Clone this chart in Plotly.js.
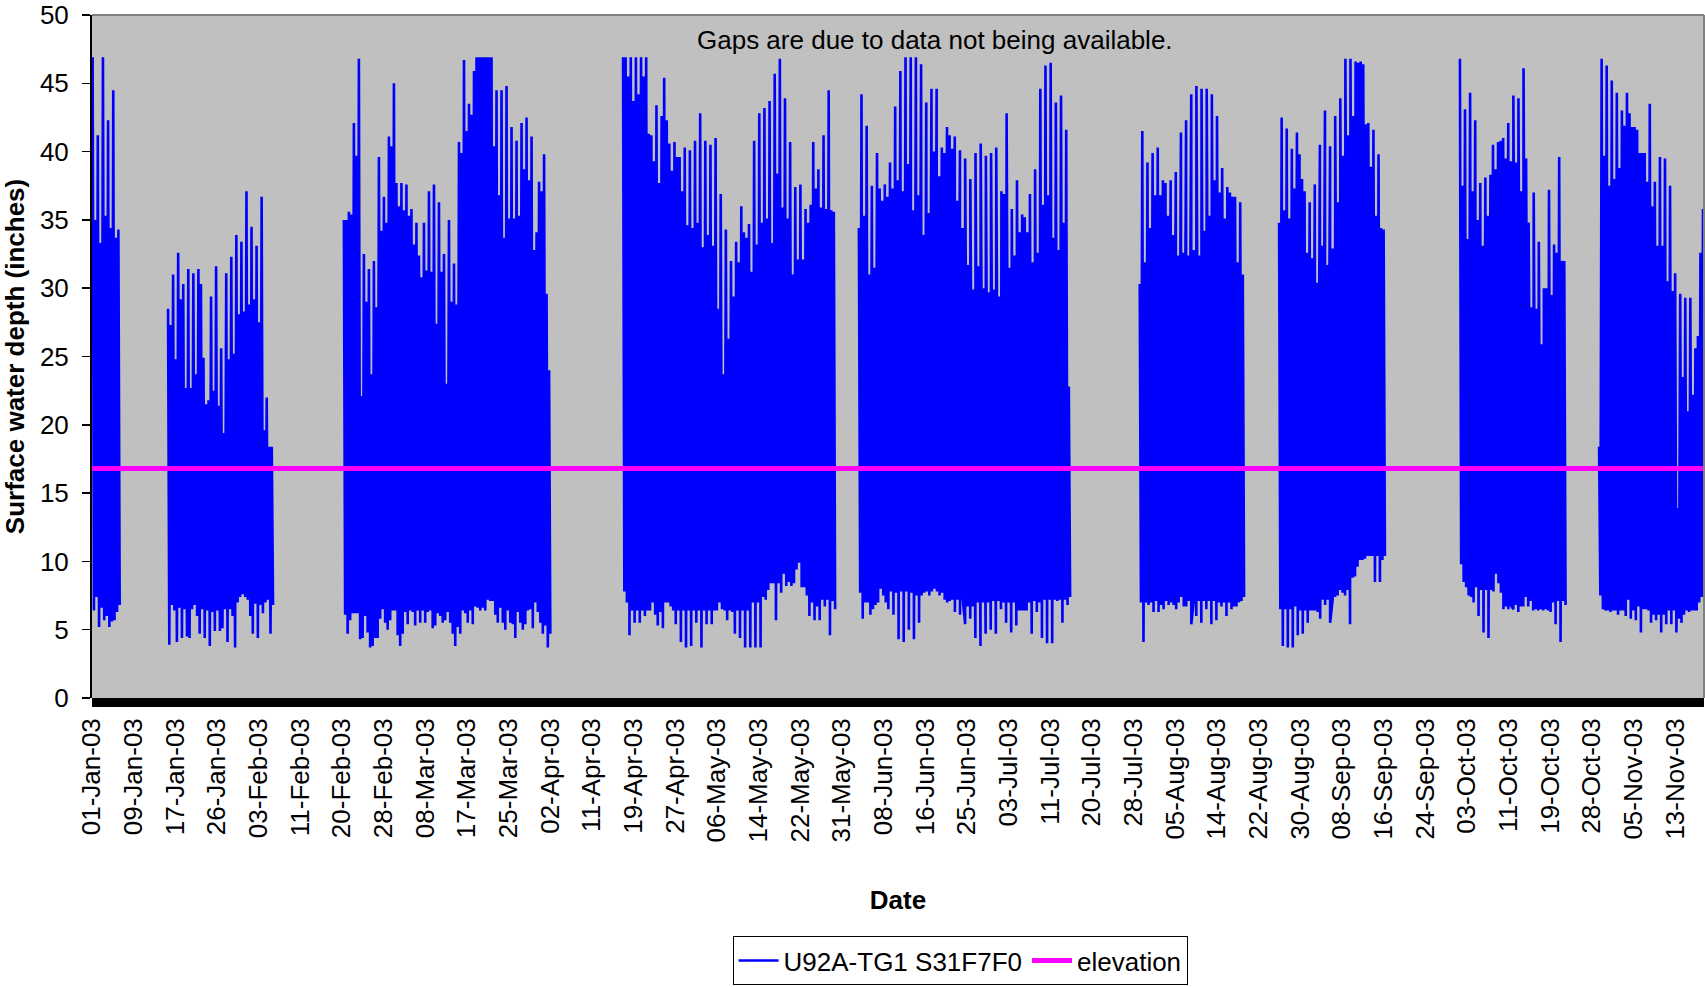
<!DOCTYPE html>
<html>
<head>
<meta charset="utf-8">
<script src="https://cdn.plot.ly/plotly-3.0.1.min.js"></script>
<style>
  html, body { margin: 0; padding: 0; background: #ffffff; }
  #chart { width: 1705px; height: 987px; }
</style>
</head>
<body>
<div id="chart"></div>
<script>
// ---- Data (semi-diurnal high / low readings per data block) ----
const segStart = ['2003-01-01 00:00', '2003-01-16 02:00', '2003-02-20 06:00', '2003-04-17 02:00',
                  '2003-06-03 06:00', '2003-07-29 10:00', '2003-08-26 07:00', '2003-10-01 11:00',
                  '2003-10-29 07:00'];
const segEnd   = ['2003-01-06 16:00', '2003-02-06 08:00', '2003-04-02 19:00', '2003-05-29 18:00',
                  '2003-07-15 18:00', '2003-08-19 13:00', '2003-09-16 17:00', '2003-10-22 20:00',
                  '2003-11-19 14:00'];

const highs1 = [46.9, 35.0, 41.2, 33.3, 46.9, 35.3, 42.3, 34.4, 44.5, 33.7, 34.3];
const lows1  = [6.4, 7.4, 5.2, 6.6, 5.7, 6.0, 5.2, 5.6, 5.7, 6.3, 6.8];

const highs2 = [28.5, 27.3, 31.0, 24.8, 32.6, 29.2, 30.3, 22.7, 31.4, 22.7, 31.1, 23.7, 31.4, 30.3,
                24.9, 21.5, 21.8, 29.4, 22.5, 31.6, 21.4, 25.6, 19.4, 31.1, 24.8, 32.3, 25.2, 33.9,
                28.1, 33.4, 28.3, 37.1, 28.8, 34.5, 29.2, 33.1, 27.5, 36.7, 19.6, 22.0, 18.4, 18.4];
const lows2  = [3.9, 6.8, 6.4, 4.1, 6.6, 4.4, 6.5, 4.5, 4.4, 6.5, 6.8, 6.0, 4.7, 6.5, 4.4, 6.4, 3.8,
                6.3, 4.9, 6.4, 4.9, 5.1, 6.5, 4.1, 6.5, 6.0, 3.7, 7.0, 7.4, 7.6, 7.4, 7.2, 6.0, 4.7,
                6.9, 4.4, 6.8, 6.2, 7.0, 7.2, 4.7, 6.8];

const highs3 = [35.0, 35.0, 35.6, 35.4, 42.1, 39.7, 46.8, 22.1, 32.5, 29.0,
                31.4, 23.7, 32.0, 28.6, 39.6, 34.2, 36.7, 34.8, 41.1, 40.4,
                45.0, 37.7, 36.0, 37.7, 35.7, 37.6, 35.3, 35.8, 33.2, 34.8,
                32.4, 30.8, 34.8, 31.3, 37.1, 31.2, 37.6, 27.4, 36.3, 31.2,
                32.5, 23.0, 35.0, 29.0, 31.8, 28.8, 40.7, 39.9, 46.7, 41.5,
                43.5, 42.7, 45.9, 46.9, 46.9, 46.9, 46.9, 46.9, 46.9, 46.9,
                40.4, 44.5, 36.8, 44.5, 33.7, 44.8, 35.1, 41.8, 35.1, 40.8,
                35.3, 42.1, 38.7, 42.5, 37.9, 41.1, 32.8, 34.1, 37.8, 37.1,
                39.8, 29.6, 24.0];
const lows3  = [6.1, 4.7, 5.7, 6.2, 6.2, 6.2, 4.3, 4.4, 6.0, 4.8, 3.7, 3.8, 4.4, 4.4, 5.8, 6.5, 5.5,
                5.0, 5.7, 6.4, 6.4, 4.6, 3.8, 4.7, 6.3, 5.4, 6.4, 6.3, 5.3, 6.4, 5.5, 6.4, 5.5, 6.3,
                6.4, 5.1, 5.3, 6.2, 6.0, 5.5, 5.7, 6.3, 5.5, 4.7, 3.8, 5.2, 4.7, 6.4, 6.2, 5.5, 6.4,
                5.4, 6.7, 6.6, 6.4, 6.6, 6.4, 7.2, 7.1, 7.1, 6.1, 5.5, 6.6, 5.5, 5.0, 6.4, 5.5, 5.4,
                4.4, 6.3, 5.5, 5.0, 5.4, 6.4, 6.5, 5.1, 7.0, 6.3, 5.5, 4.7, 5.3, 3.7, 4.7];

const highs4 = [46.9, 46.9, 45.5, 46.9, 43.7, 46.9, 44.2, 46.9, 45.5, 46.9,
                41.3, 41.2, 39.3, 43.4, 37.7, 42.6, 45.4, 42.3, 40.6, 38.6,
                40.7, 39.6, 39.6, 37.1, 40.3, 34.6, 40.1, 34.4, 40.8, 34.8,
                42.8, 33.0, 40.8, 33.9, 40.5, 33.1, 41.0, 28.5, 36.9, 23.7,
                34.3, 26.3, 32.0, 29.4, 33.4, 31.9, 36.0, 34.1, 33.7, 34.7,
                31.2, 40.8, 33.2, 42.8, 34.8, 43.2, 35.1, 43.7, 33.3, 45.7,
                38.4, 46.8, 35.9, 43.9, 35.1, 40.7, 31.0, 37.4, 32.1, 37.6,
                32.1, 35.8, 34.8, 36.1, 40.7, 37.3, 38.7, 35.9, 41.2, 35.8,
                44.5, 35.7, 35.6];
const lows4  = [7.8, 7.0, 4.6, 6.4, 5.5, 6.4, 5.5, 6.4, 6.0, 6.4, 6.4, 7.0, 6.1, 5.3, 6.3, 5.1, 7.0,
                7.0, 6.7, 6.4, 5.4, 6.4, 4.1, 6.4, 3.7, 6.4, 3.8, 6.4, 5.5, 6.4, 3.7, 6.4, 5.4, 6.4,
                5.4, 6.4, 6.4, 7.0, 6.5, 6.4, 5.7, 6.4, 6.3, 4.7, 6.4, 4.4, 6.4, 3.7, 6.4, 3.7, 7.0,
                3.7, 7.0, 3.7, 7.4, 7.2, 7.9, 8.4, 8.4, 5.7, 8.4, 7.7, 9.1, 8.2, 8.5, 8.2, 8.4, 9.4,
                9.9, 8.1, 8.1, 7.5, 6.0, 7.0, 5.7, 6.7, 5.7, 7.2, 6.7, 7.2, 4.6, 7.1, 6.5];

const highs5 = [34.4, 44.2, 35.3, 41.9, 31.0, 37.5, 31.5, 39.9, 37.3, 36.4, 37.6, 36.7, 39.2, 37.3,
                43.3, 37.9, 45.9, 37.1, 46.9, 39.1, 46.9, 35.7, 46.9, 36.8, 46.4, 33.9, 43.6, 35.5,
                44.6, 40.0, 44.6, 38.2, 40.3, 39.9, 41.8, 41.2, 40.2, 41.1, 36.4, 40.1, 34.4, 39.5,
                31.7, 38.0, 29.9, 39.9, 31.6, 40.6, 30.0, 39.7, 29.7, 39.9, 29.9, 40.3, 29.4, 37.1,
                36.9, 42.8, 31.5, 35.8, 32.4, 37.9, 34.1, 35.4, 35.2, 34.1, 36.9, 31.9, 38.7, 32.6,
                44.6, 36.1, 46.3, 36.8, 46.5, 33.7, 43.6, 32.8, 44.1, 34.8, 41.6, 22.8];
const lows5  = [7.7, 5.8, 7.0, 7.0, 6.1, 6.5, 6.8, 7.0, 8.0, 7.5, 7.0, 6.5, 7.8, 6.1, 7.7, 4.3, 7.8,
                4.1, 7.8, 5.0, 7.7, 4.3, 7.5, 5.5, 7.5, 7.7, 7.8, 7.5, 7.8, 8.0, 7.8, 7.5, 7.7, 7.2,
                7.0, 7.1, 7.2, 6.3, 7.2, 6.1, 7.4, 5.4, 6.7, 5.8, 6.7, 4.4, 7.0, 3.8, 7.0, 4.7, 7.0,
                5.0, 7.1, 4.7, 7.1, 6.5, 7.0, 5.5, 7.0, 4.8, 7.0, 5.3, 6.4, 6.4, 6.4, 6.4, 7.0, 4.7,
                7.1, 6.3, 7.0, 4.4, 7.2, 4.0, 7.2, 4.0, 7.2, 7.1, 7.2, 5.5, 7.2, 6.8, 7.4];

const highs6 = [30.3, 41.5, 31.9, 39.2, 34.4, 39.9, 36.8, 40.3, 36.8, 37.9, 37.7, 35.3, 37.9, 33.9,
                38.5, 32.4, 41.4, 32.6, 42.3, 32.4, 44.2, 32.8, 44.8, 32.4, 44.6, 34.2, 44.6, 35.3,
                44.2, 37.9, 42.6, 37.0, 38.8, 35.1, 37.4, 37.0, 36.7, 36.7, 31.9, 36.3, 31.0];
const lows6  = [7.0, 4.1, 7.0, 6.8, 7.0, 6.3, 7.1, 6.3, 6.8, 6.5, 7.1, 6.8, 7.0, 6.8, 6.5, 7.0, 7.4,
                6.7, 6.7, 7.1, 5.4, 7.1, 6.0, 7.1, 5.5, 7.1, 6.5, 7.1, 5.4, 7.1, 5.7, 7.0, 6.7, 7.0,
                6.0, 7.0, 6.5, 6.7, 6.7, 7.0, 7.1, 7.4];

const highs7 = [34.8, 42.5, 35.7, 41.7, 35.1, 40.2, 37.3, 41.4, 39.8, 38.0, 37.1, 32.6, 36.3, 32.2,
                37.6, 30.4, 40.5, 33.1, 43.0, 31.7, 40.4, 32.9, 42.6, 36.3, 43.9, 39.7, 46.8, 41.2,
                46.8, 42.6, 46.6, 46.5, 46.6, 46.4, 42.0, 42.1, 38.9, 41.6, 35.3, 39.8, 34.4, 34.3];
const lows7  = [6.5, 3.8, 6.5, 3.7, 6.5, 3.7, 6.7, 4.6, 6.4, 4.7, 6.4, 5.5, 6.4, 6.4, 6.4, 6.3, 5.8,
                7.2, 6.8, 7.2, 5.5, 7.2, 7.4, 7.5, 7.9, 7.7, 7.5, 7.9, 5.4, 8.8, 8.9, 9.6, 10.1, 10.1,
                10.2, 10.4, 10.4, 10.4, 8.5, 10.4, 8.5, 10.1, 10.4];

const highs8 = [46.8, 37.5, 43.1, 33.6, 44.3, 37.1, 42.3, 35.0, 37.7, 33.1, 38.1, 35.3, 38.3, 40.5,
                38.7, 40.7, 40.8, 41.0, 39.5, 42.1, 39.3, 44.1, 39.2, 43.9, 37.1, 46.1, 39.5, 34.8,
                28.6, 37.0, 28.5, 33.4, 25.9, 30.0, 30.0, 37.2, 29.5, 33.2, 32.6, 39.6, 32.0, 32.0];
const lows8  = [9.8, 8.5, 8.1, 7.5, 7.4, 7.0, 8.1, 6.0, 7.9, 4.8, 7.9, 4.4, 7.9, 7.8, 9.1, 8.4, 7.7,
                6.5, 6.7, 6.5, 6.8, 6.5, 6.8, 6.3, 6.7, 6.7, 7.4, 6.7, 7.1, 6.4, 6.5, 6.4, 6.5, 6.4,
                6.5, 6.4, 6.3, 7.0, 5.4, 7.1, 4.1, 7.1, 6.8];

const highs9 = [18.4, 46.8, 39.7, 46.3, 37.5, 45.2, 38.0, 44.3, 38.8, 43.0, 41.9, 44.3, 42.8, 41.8,
                41.8, 41.6, 39.9, 39.9, 39.9, 37.8, 43.5, 36.0, 37.8, 33.1, 39.6, 33.1, 39.5, 30.5,
                37.5, 29.8, 31.1, 13.9, 29.6, 23.5, 29.3, 21.0, 29.3, 22.2, 25.6, 26.5, 32.6, 35.8];
const lows9  = [7.5, 6.5, 6.4, 6.4, 6.3, 6.4, 6.4, 6.1, 6.4, 6.4, 6.0, 7.2, 5.8, 6.4, 5.7, 6.7, 4.8,
                6.5, 6.5, 6.4, 5.5, 6.1, 5.7, 6.1, 4.8, 6.1, 5.4, 6.4, 5.4, 6.4, 4.8, 5.8, 5.5, 6.1,
                6.4, 6.3, 6.4, 6.4, 6.4, 7.0, 7.4, 7.5];

const segHighs = [highs1, highs2, highs3, highs4, highs5, highs6, highs7, highs8, highs9];
const segLows  = [lows1, lows2, lows3, lows4, lows5, lows6, lows7, lows8, lows9];

const elevationX = ['2003-01-01 00:00', '2003-11-19 09:36'];
const elevationY = [16.8, 16.8];

const xTickLabels = ['01-Jan-03', '09-Jan-03', '17-Jan-03', '26-Jan-03', '03-Feb-03', '11-Feb-03',
  '20-Feb-03', '28-Feb-03', '08-Mar-03', '17-Mar-03', '25-Mar-03', '02-Apr-03', '11-Apr-03',
  '19-Apr-03', '27-Apr-03', '06-May-03', '14-May-03', '22-May-03', '31-May-03', '08-Jun-03',
  '16-Jun-03', '25-Jun-03', '03-Jul-03', '11-Jul-03', '20-Jul-03', '28-Jul-03', '05-Aug-03',
  '14-Aug-03', '22-Aug-03', '30-Aug-03', '08-Sep-03', '16-Sep-03', '24-Sep-03', '03-Oct-03',
  '11-Oct-03', '19-Oct-03', '28-Oct-03', '05-Nov-03', '13-Nov-03'];
const xTickStart = '2003-01-01 00:00';
const xTickStepHours = 200;
const xRange = ['2003-01-01 00:00', '2003-11-19 09:36'];
const yTicks = [0, 5, 10, 15, 20, 25, 30, 35, 40, 45, 50];

// ---- Build series ----
function toMs(s) { return Date.parse(s.replace(' ', 'T') + ':00Z'); }
function toStr(ms) { return new Date(ms).toISOString().replace('T', ' ').replace('Z', ''); }

const seriesX = [], seriesY = [];
for (let s = 0; s < segStart.length; s++) {
  const t0 = toMs(segStart[s]), t1 = toMs(segEnd[s]), dur = t1 - t0;
  const H = segHighs[s], L = segLows[s];
  const pts = [];
  H.forEach((v, k) => pts.push({ t: t0 + (k + 0.25) / H.length * dur, v: v }));
  L.forEach((v, k) => pts.push({ t: t0 + (k + 0.75) / L.length * dur, v: v }));
  pts.sort((a, b) => a.t - b.t);
  pts.forEach(p => { seriesX.push(toStr(p.t)); seriesY.push(p.v); });
  seriesX.push(toStr(t1 + 3600e3)); seriesY.push(null);
}

const t00 = toMs(xTickStart);
const xTickVals = xTickLabels.map((_, k) => toStr(t00 + k * xTickStepHours * 3600e3));

const FONT = 'Liberation Sans, Arial, Helvetica, sans-serif';

const traces = [
  {
    type: 'scatter', mode: 'lines', name: 'U92A-TG1 S31F7F0',
    x: seriesX, y: seriesY, connectgaps: false,
    line: { color: '#0000FF', width: 2.6 }, hoverinfo: 'skip'
  },
  {
    type: 'scatter', mode: 'lines', name: 'elevation',
    x: elevationX, y: elevationY,
    line: { color: '#FF00FF', width: 5 }, hoverinfo: 'skip'
  }
];

const PLOT_H = 987 - 15 - 289;

const layout = {
  width: 1705, height: 987,
  margin: { l: 92, r: 1, t: 15, b: 289 },
  paper_bgcolor: '#FFFFFF',
  plot_bgcolor: '#C0C0C0',
  font: { family: FONT, size: 26, color: '#000000' },
  showlegend: true,
  legend: {
    orientation: 'h', xref: 'paper', x: 0.5385, xanchor: 'center',
    yref: 'container', y: 0.002, yanchor: 'bottom',
    bgcolor: '#FFFFFF', bordercolor: '#000000', borderwidth: 1,
    font: { family: FONT, size: 26, color: '#000000' },
    traceorder: 'normal', itemwidth: 40
  },
  xaxis: {
    type: 'date', range: xRange, tickmode: 'array',
    tickvals: xTickVals, ticktext: xTickLabels, tickangle: -90,
    ticks: '', showgrid: false, zeroline: false, showline: false,
    tickfont: { family: FONT, size: 26, color: '#000000' },
    ticklabelstandoff: 14, ticklabeloverflow: 'allow',
    title: { text: '<b>Date</b>', font: { family: FONT, size: 26, color: '#000000' }, standoff: 49 },
    automargin: false, fixedrange: true
  },
  yaxis: {
    range: [0, 50], tickmode: 'array', tickvals: yTicks,
    ticks: 'outside', ticklen: 8, tickwidth: 1.5, tickcolor: '#000000',
    showline: true, linecolor: '#000000', linewidth: 2,
    showgrid: false, zeroline: false,
    tickfont: { family: FONT, size: 26, color: '#000000' },
    ticklabelstandoff: 8, ticklabeloverflow: 'allow',
    title: { text: '<b>Surface water depth (inches)</b>', font: { family: FONT, size: 26, color: '#000000' }, standoff: 14 },
    automargin: false, fixedrange: true
  },
  shapes: [
    { type: 'rect', xref: 'paper', yref: 'paper', x0: 0, x1: 1, y0: -9 / PLOT_H, y1: 0,
      fillcolor: '#000000', line: { width: 0 }, layer: 'above' },
    { type: 'line', xref: 'paper', yref: 'paper', x0: 0, x1: 1, y0: 1, y1: 1,
      line: { color: '#808080', width: 2 }, layer: 'above' },
    { type: 'line', xref: 'paper', yref: 'paper', x0: 1, x1: 1, y0: 0, y1: 1,
      line: { color: '#808080', width: 2 }, layer: 'above' }
  ],
  annotations: [
    { text: 'Gaps are due to data not being available.', xref: 'paper', yref: 'paper',
      x: 0.523, y: (698 - 40) / PLOT_H, xanchor: 'center', yanchor: 'middle', showarrow: false,
      font: { family: FONT, size: 26, color: '#000000' } }
  ]
};

Plotly.newPlot('chart', traces, layout, { displayModeBar: false, staticPlot: true });
</script>
</body>
</html>
